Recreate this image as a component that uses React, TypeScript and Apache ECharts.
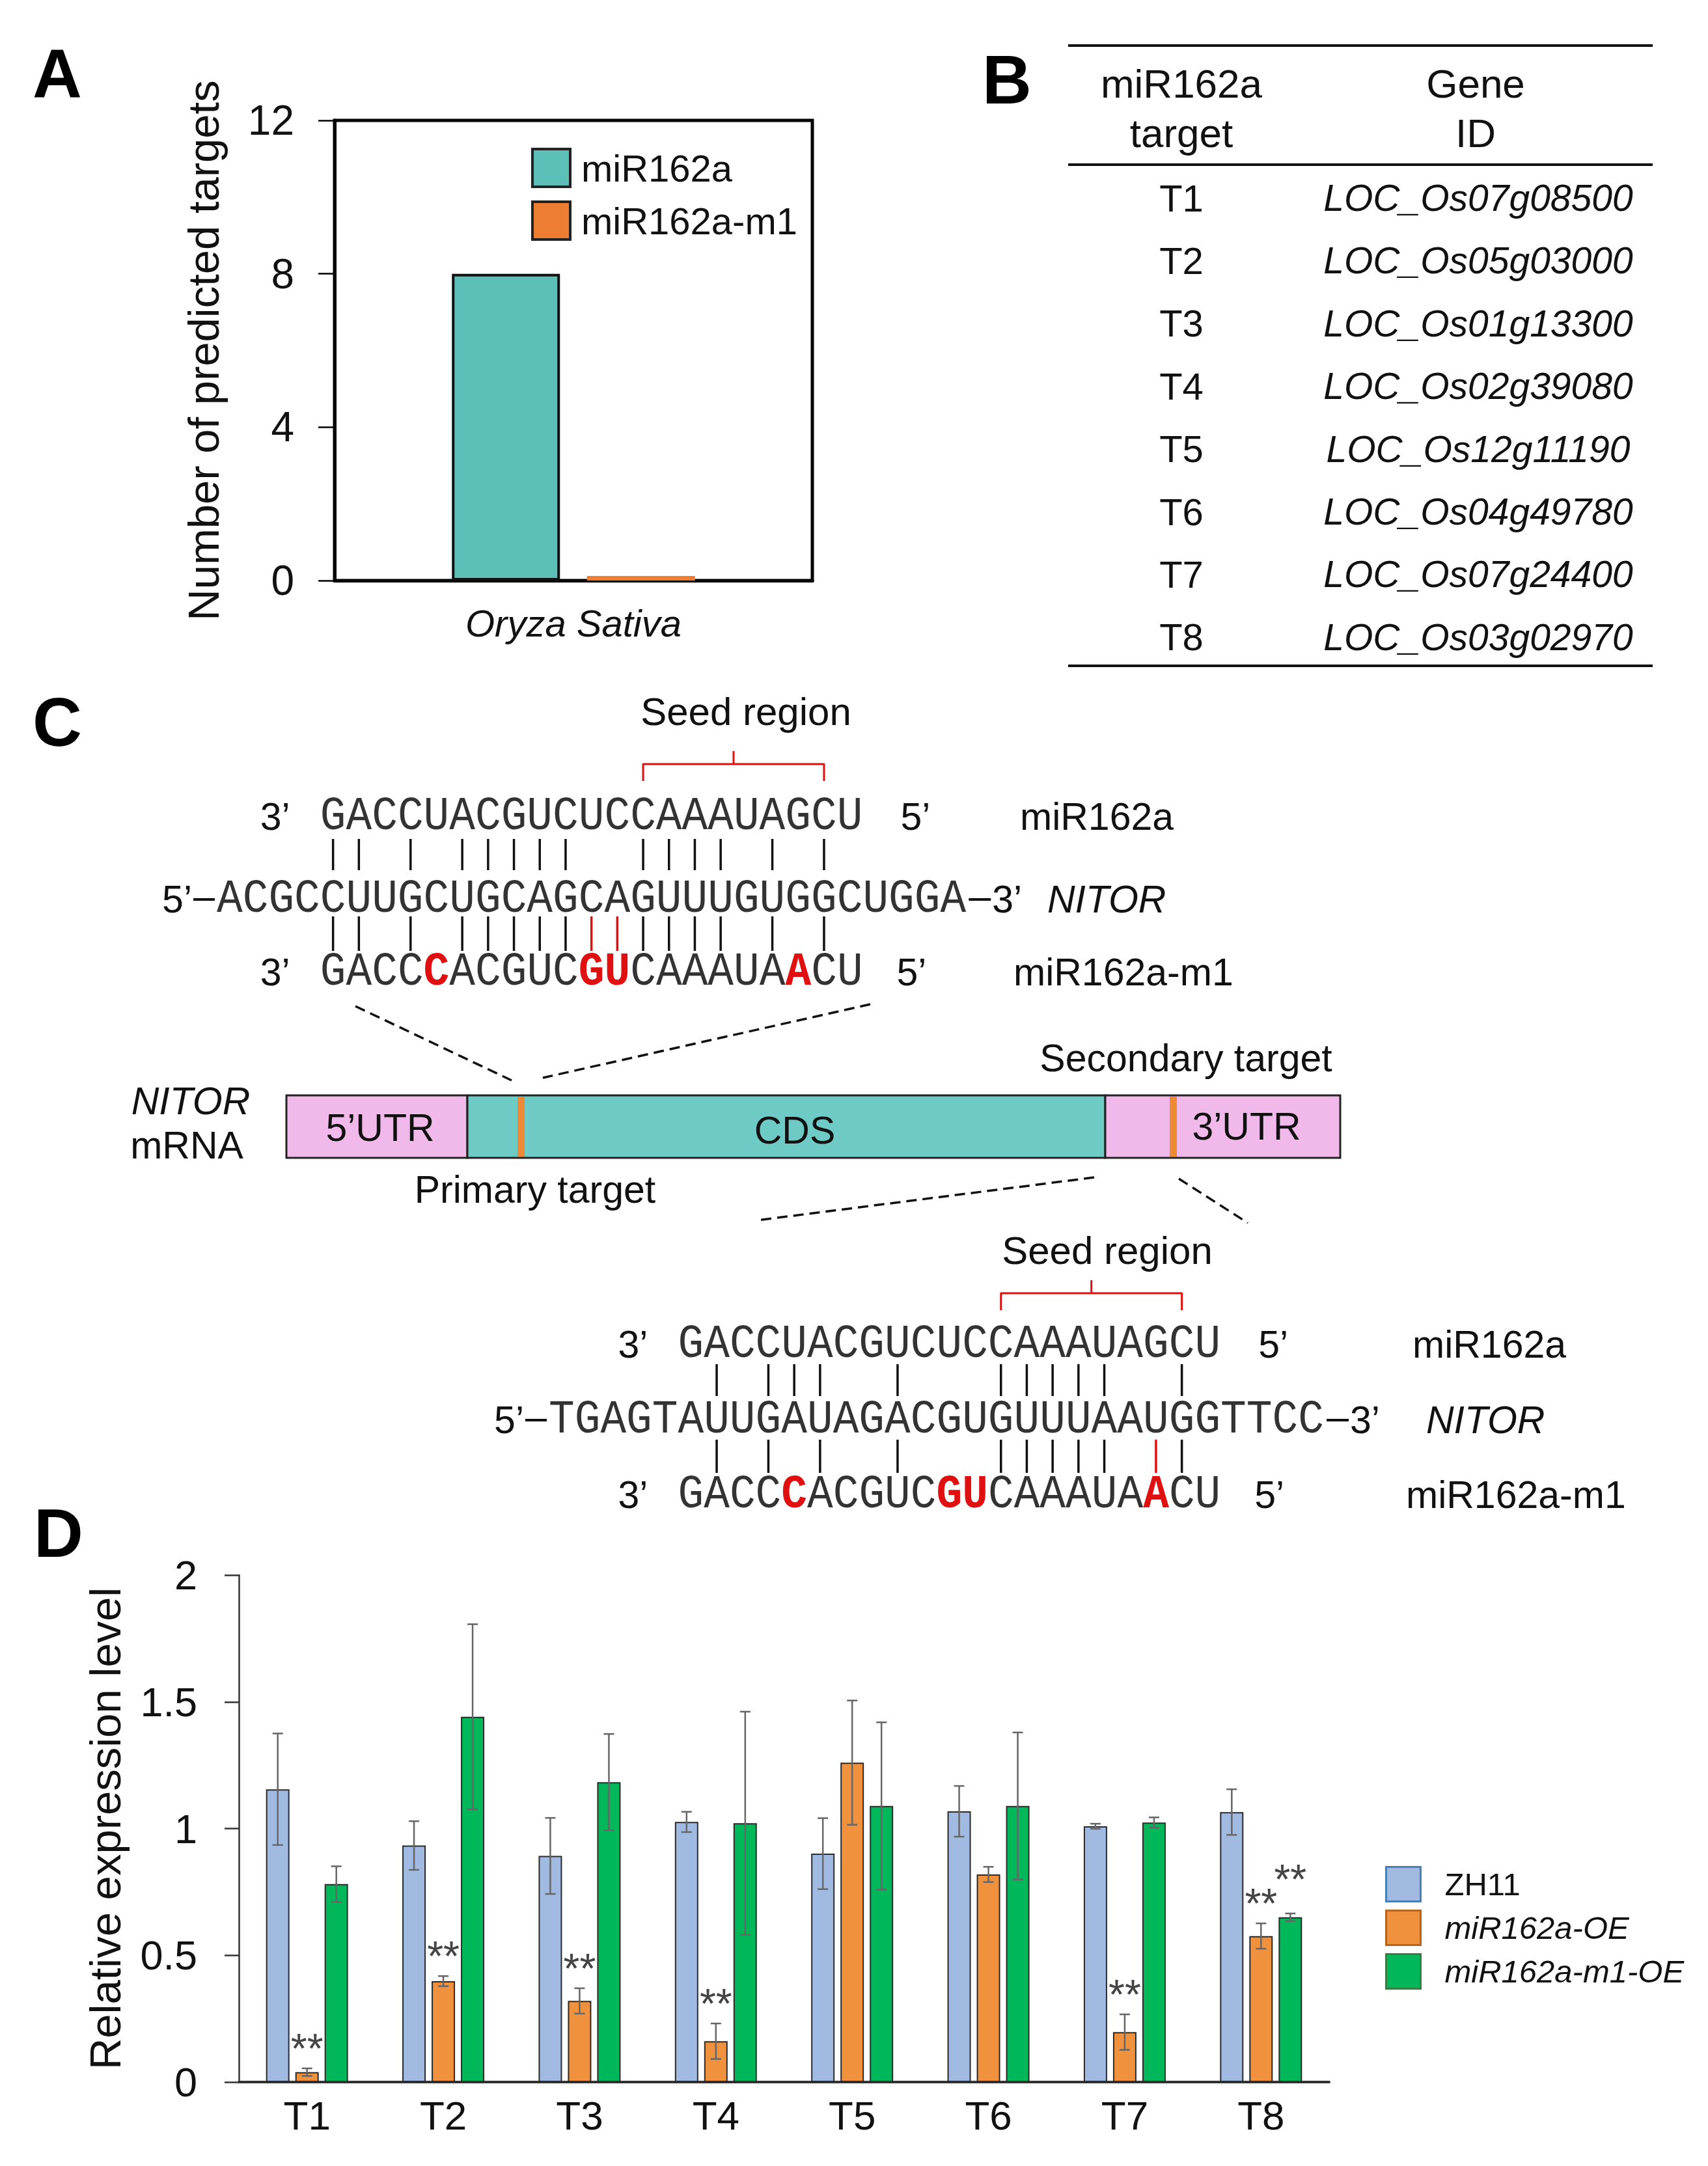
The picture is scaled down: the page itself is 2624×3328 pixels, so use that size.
import React, { useEffect, useRef } from 'react';
import * as echarts from 'echarts';

const FONT = "'Liberation Sans', Arial, Helvetica, sans-serif";
const MONO = "'Liberation Mono', 'Courier New', monospace";

// ---------- Panel A data ----------
const speciesCategories = ['Oryza Sativa'];
const miR162aTargetCount = [8];
const miR162aM1TargetCount = [0];

// ---------- Panel B data ----------
const tableTargets = ['T1', 'T2', 'T3', 'T4', 'T5', 'T6', 'T7', 'T8'];
const tableGeneIds = [
  'LOC_Os07g08500', 'LOC_Os05g03000', 'LOC_Os01g13300', 'LOC_Os02g39080',
  'LOC_Os12g11190', 'LOC_Os04g49780', 'LOC_Os07g24400', 'LOC_Os03g02970',
];

// ---------- Panel C data ----------
const miR162aSeq = 'GACCUACGUCUCCAAAUAGCU';
const miR162aM1Seq = 'GACCCACGUCGUCAAAUAACU';
const mutatedIdx = [4, 10, 11, 18];
const nitorPrimarySeq = 'ACGCCUUGCUGCAGCAGUUUGUGGCUGGA';
const nitorSecondarySeq = 'TGAGTAUUGAUAGACGUGUUUAAUGGTTCC';
const primaryPairsTop = [0, 1, 3, 5, 6, 7, 8, 9, 12, 13, 14, 15, 17, 19];
const primaryPairsBottom = [0, 1, 3, 5, 6, 7, 8, 9, 12, 13, 14, 15, 17, 19];
const primaryPairsBottomRed = [10, 11];
const secondaryPairsTop = [1, 3, 4, 5, 8, 12, 13, 14, 15, 16, 19];
const secondaryPairsBottom = [1, 3, 5, 8, 12, 13, 14, 15, 16, 19];
const secondaryPairsBottomRed = [18];
const seedRange = [12, 19];
const primaryOffset = 4;
const secondaryOffset = 5;

// ---------- Panel D data ----------
const targets = ['T1', 'T2', 'T3', 'T4', 'T5', 'T6', 'T7', 'T8'];
const zh11 = [1.155, 0.933, 0.892, 1.026, 0.901, 1.068, 1.009, 1.065];
const zh11Err = [0.22, 0.096, 0.15, 0.04, 0.14, 0.1, 0.01, 0.09];
const oe = [0.039, 0.398, 0.32, 0.161, 1.26, 0.819, 0.197, 0.576];
const oeErr = [0.015, 0.02, 0.05, 0.07, 0.245, 0.03, 0.07, 0.05];
const m1oe = [0.781, 1.441, 1.183, 1.021, 1.089, 1.089, 1.024, 0.65];
const m1oeErr = [0.07, 0.365, 0.19, 0.44, 0.33, 0.29, 0.02, 0.015];
const oeSig = [1, 1, 1, 1, 0, 0, 1, 1];
const m1oeSig = [0, 0, 0, 0, 0, 0, 0, 1];
const zh11Sig = [0, 0, 0, 0, 0, 0, 0, 0];

const C_TEAL = '#5cc0b8';
const C_ORANGE_A = '#ed7d31';
const C_BLUE = '#a0bae2';
const C_ORANGE = '#f0913e';
const C_GREEN = '#00b75a';
const C_RED = '#e01010';

const PITCH = 39.7;
const MONO_SIZE = 72;
const MONO_SCALE = PITCH / (0.6 * MONO_SIZE);

function text(x: number, y: number, t: string, o: any = {}) {
  return {
    type: 'text',
    x,
    y,
    scaleX: o.scaleX ?? 1,
    style: {
      text: t,
      fontSize: o.size ?? 59,
      fontFamily: o.family ?? FONT,
      fontStyle: o.italic ? 'italic' : 'normal',
      fontWeight: o.bold ? 'bold' : 'normal',
      fill: o.color ?? '#111',
      align: o.align ?? 'center',
      verticalAlign: o.valign ?? 'middle',
      rich: o.rich,
    },
  };
}

function line(x1: number, y1: number, x2: number, y2: number, o: any = {}) {
  return {
    type: 'line',
    shape: { x1, y1, x2, y2 },
    style: { stroke: o.color ?? '#111', lineWidth: o.width ?? 3, lineDash: o.dash },
  };
}

function richSeq(seq: string, red: number[]) {
  let s = '';
  let cur = '';
  let curRed = false;
  for (let i = 0; i < seq.length; i++) {
    const r = red.includes(i);
    if (i > 0 && r !== curRed) {
      s += `{${curRed ? 'r' : 'n'}|${cur}}`;
      cur = '';
    }
    curRed = r;
    cur += seq[i];
  }
  s += `{${curRed ? 'r' : 'n'}|${cur}}`;
  return s;
}

function alignment(cfg: any) {
  const els: any[] = [];
  const miStart = cfg.nitorStart + cfg.offset * PITCH;
  const cx = (i: number) => miStart + (i + 0.5) * PITCH;
  const seqColor = '#333';
  // seed region
  els.push(text(cfg.seedCx, cfg.seedY, 'Seed region', { size: 60 }));
  const bx1 = cx(seedRange[0]);
  const bx2 = cx(seedRange[1]);
  const by = cfg.bracketY;
  els.push(line(bx1, by, bx2, by, { color: C_RED, width: 3 }));
  els.push(line(bx1, by - 1, bx1, by + 26, { color: C_RED, width: 3 }));
  els.push(line(bx2, by - 1, bx2, by + 26, { color: C_RED, width: 3 }));
  els.push(line((bx1 + bx2) / 2, by, (bx1 + bx2) / 2, by - 20, { color: C_RED, width: 3 }));
  // miR row
  els.push(text(miStart - 92, cfg.row1, '3’', { align: 'left' }));
  els.push(text(miStart, cfg.row1, miR162aSeq, { family: MONO, size: MONO_SIZE, align: 'left', color: seqColor, scaleX: MONO_SCALE }));
  els.push(text(miStart + 21 * PITCH + 58, cfg.row1, '5’', { align: 'left' }));
  els.push(text(cfg.labelX, cfg.row1, 'miR162a', { align: 'left' }));
  // pairs top
  cfg.top.forEach((i: number) => els.push(line(cx(i), cfg.l1a, cx(i), cfg.l1b, { width: 3.5 })));
  // NITOR row
  const ns = cfg.nitorStart;
  const nEnd = ns + cfg.nitor.length * PITCH;
  els.push(text(ns - 38, cfg.row2, '5’', { align: 'right' }));
  els.push(line(ns - 36, cfg.row2, ns - 3, cfg.row2, { width: 4 }));
  els.push(text(ns, cfg.row2, cfg.nitor, { family: MONO, size: MONO_SIZE, align: 'left', color: seqColor, scaleX: MONO_SCALE }));
  els.push(line(nEnd + 4, cfg.row2, nEnd + 38, cfg.row2, { width: 4 }));
  els.push(text(nEnd + 40, cfg.row2, '3’', { align: 'left' }));
  els.push(text(cfg.nitorLabelX, cfg.row2, 'NITOR', { align: 'left', italic: true }));
  // pairs bottom
  cfg.bottom.forEach((i: number) => els.push(line(cx(i), cfg.l2a, cx(i), cfg.l2b, { width: 3.5 })));
  cfg.bottomRed.forEach((i: number) => els.push(line(cx(i), cfg.l2a, cx(i), cfg.l2b, { width: 3.5, color: C_RED })));
  // m1 row
  els.push(text(miStart - 92, cfg.row3, '3’', { align: 'left' }));
  els.push(
    text(miStart, cfg.row3, richSeq(miR162aM1Seq, mutatedIdx), {
      family: MONO,
      size: MONO_SIZE,
      align: 'left',
      color: seqColor,
      scaleX: MONO_SCALE,
      rich: {
        n: { fontFamily: MONO, fontSize: MONO_SIZE, fill: seqColor },
        r: { fontFamily: MONO, fontSize: MONO_SIZE, fill: C_RED, fontWeight: 'bold' },
      },
    })
  );
  els.push(text(miStart + 21 * PITCH + 52, cfg.row3, '5’', { align: 'left' }));
  els.push(text(cfg.labelX - 10, cfg.row3, 'miR162a-m1', { align: 'left' }));
  return els;
}

function buildGraphics() {
  const g: any[] = [];
  // panel letters
  g.push(text(88, 113, 'A', { bold: true, size: 105, color: '#000' }));
  g.push(text(1547, 122, 'B', { bold: true, size: 105, color: '#000' }));
  g.push(text(88, 1109, 'C', { bold: true, size: 105, color: '#000' }));
  g.push(text(90, 2355, 'D', { bold: true, size: 105, color: '#000' }));

  // Panel B table
  g.push(line(1641, 70, 2539, 70, { width: 4 }));
  g.push(line(1641, 253, 2539, 253, { width: 4 }));
  g.push(line(1641, 1023, 2539, 1023, { width: 4 }));
  g.push(text(1815, 128, 'miR162a', { size: 62 }));
  g.push(text(1815, 204, 'target', { size: 62 }));
  g.push(text(2267, 128, 'Gene', { size: 62 }));
  g.push(text(2267, 204, 'ID', { size: 62 }));
  tableTargets.forEach((t, k) => {
    const y = 304 + k * 96.4;
    g.push(text(1815, y, t, { size: 58 }));
    g.push(text(2271, y, tableGeneIds[k], { size: 57, italic: true }));
  });

  // Panel C primary alignment
  g.push(
    ...alignment({
      nitorStart: 333,
      offset: primaryOffset,
      nitor: nitorPrimarySeq,
      seedCx: 1146,
      seedY: 1093,
      bracketY: 1174,
      row1: 1255,
      l1a: 1289,
      l1b: 1337,
      row2: 1382,
      l2a: 1408,
      l2b: 1461,
      row3: 1494,
      top: primaryPairsTop,
      bottom: primaryPairsBottom,
      bottomRed: primaryPairsBottomRed,
      labelX: 1567,
      nitorLabelX: 1609,
    })
  );

  // mRNA diagram
  const by1 = 1683;
  const by2 = 1779;
  g.push({ type: 'rect', shape: { x: 440, y: by1, width: 278, height: by2 - by1 }, style: { fill: '#f0b9e9', stroke: '#222', lineWidth: 3 } });
  g.push({ type: 'rect', shape: { x: 718, y: by1, width: 980, height: by2 - by1 }, style: { fill: '#6dcac4', stroke: '#222', lineWidth: 3 } });
  g.push({ type: 'rect', shape: { x: 1698, y: by1, width: 361, height: by2 - by1 }, style: { fill: '#f0b9e9', stroke: '#222', lineWidth: 3 } });
  g.push({ type: 'rect', shape: { x: 795, y: by1 + 2, width: 11, height: by2 - by1 - 4 }, style: { fill: '#ee8a35' } });
  g.push({ type: 'rect', shape: { x: 1797, y: by1 + 2, width: 11, height: by2 - by1 - 4 }, style: { fill: '#ee8a35' } });
  g.push(text(584, 1733, '5’UTR'));
  g.push(text(1221, 1737, 'CDS'));
  g.push(text(1915, 1731, '3’UTR'));
  g.push(text(293, 1692, 'NITOR', { italic: true }));
  g.push(text(287, 1760, 'mRNA'));
  g.push(text(1822, 1626, 'Secondary target'));
  g.push(text(822, 1828, 'Primary target'));
  const dash = [16, 9];
  g.push(line(546, 1546, 786, 1660, { dash, width: 3.5 }));
  g.push(line(1337, 1543, 834, 1656, { dash, width: 3.5 }));
  g.push(line(1681, 1809, 1163, 1875, { dash, width: 3.5 }));
  g.push(line(1811, 1811, 1917, 1879, { dash, width: 3.5 }));

  // Panel C secondary alignment
  g.push(
    ...alignment({
      nitorStart: 843,
      offset: secondaryOffset,
      nitor: nitorSecondarySeq,
      seedCx: 1701,
      seedY: 1921,
      bracketY: 1987,
      row1: 2066,
      l1a: 2096,
      l1b: 2145,
      row2: 2182,
      l2a: 2212,
      l2b: 2263,
      row3: 2297,
      top: secondaryPairsTop,
      bottom: secondaryPairsBottom,
      bottomRed: secondaryPairsBottomRed,
      labelX: 2170,
      nitorLabelX: 2191,
    })
  );
  return g;
}

const BAR_W = 36;
const BAR_STEP = 45;

function errorSeries(name: string, vals: number[], errs: number[], sig: number[], k: number, lift: number) {
  return {
    type: 'custom',
    name: name + ' error',
    xAxisIndex: 1,
    yAxisIndex: 1,
    z: 5,
    silent: true,
    encode: { x: 0, y: 1 },
    data: vals.map((v, i) => [i, v, errs[i], sig[i]]),
    renderItem: (params: any, api: any) => {
      const i = api.value(0);
      const v = api.value(1);
      const e = api.value(2);
      const s = api.value(3);
      const top = api.coord([i, v + e]);
      const bot = api.coord([i, v - e]);
      const x = top[0] + (k - 1) * BAR_STEP;
      const st = { stroke: '#666', lineWidth: 2.5 };
      const children: any[] = [
        { type: 'line', shape: { x1: x, y1: top[1], x2: x, y2: bot[1] }, style: st },
        { type: 'line', shape: { x1: x - 8, y1: top[1], x2: x + 8, y2: top[1] }, style: st },
        { type: 'line', shape: { x1: x - 8, y1: bot[1], x2: x + 8, y2: bot[1] }, style: st },
      ];
      if (s) {
        children.push({
          type: 'text',
          style: {
            text: '**',
            x,
            y: top[1] - lift,
            align: 'center',
            verticalAlign: 'middle',
            fontSize: 64,
            fontFamily: FONT,
            fill: '#444',
          },
        });
      }
      return { type: 'group', children };
    },
  };
}

export default function App() {
  const ref = useRef<HTMLDivElement>(null);
  useEffect(() => {
    if (!ref.current) return;
    document.body.style.margin = '0';
    const chart = echarts.init(ref.current, null, { renderer: 'svg' });
    const option: any = {
      animation: false,
      backgroundColor: '#ffffff',
      textStyle: { fontFamily: FONT },
      grid: [
        { left: 514, top: 185, width: 734, height: 707, show: true, borderColor: '#000', borderWidth: 5, backgroundColor: 'transparent' },
        { left: 367, top: 2420, width: 1675, height: 779 },
      ],
      legend: [
        {
          data: [
            { name: 'miR162a', itemStyle: { borderColor: '#222', borderWidth: 4 } },
            { name: 'miR162a-m1', itemStyle: { borderColor: '#222', borderWidth: 4 } },
          ],
          orient: 'vertical',
          left: 811,
          top: 222,
          icon: 'rect',
          itemWidth: 58,
          itemHeight: 58,
          itemGap: 19,
          textStyle: { fontSize: 58, color: '#111', fontFamily: FONT, padding: [0, 0, 0, 12] },
        },
        {
          data: [
            { name: 'ZH11', itemStyle: { borderColor: '#4a7fb5', borderWidth: 3 } },
            { name: 'miR162a-OE', itemStyle: { borderColor: '#b5651d', borderWidth: 3 }, textStyle: { fontStyle: 'italic' } },
            { name: 'miR162a-m1-OE', itemStyle: { borderColor: '#3a7d44', borderWidth: 3 }, textStyle: { fontStyle: 'italic' } },
          ],
          orient: 'vertical',
          left: 2123,
          top: 2862,
          icon: 'rect',
          itemWidth: 53,
          itemHeight: 53,
          itemGap: 11,
          textStyle: { fontSize: 49, color: '#111', fontFamily: FONT, padding: [0, 0, 0, 32] },
        },
      ],
      xAxis: [
        {
          gridIndex: 0,
          type: 'category',
          data: speciesCategories,
          axisLine: { lineStyle: { color: '#000', width: 5 } },
          axisTick: { show: false },
          axisLabel: { fontSize: 58, fontStyle: 'italic', color: '#111', margin: 36, fontFamily: FONT },
        },
        {
          gridIndex: 1,
          type: 'category',
          data: targets,
          axisLine: { lineStyle: { color: '#333', width: 4 } },
          axisTick: { show: false },
          axisLabel: { fontSize: 62, color: '#111', margin: 20, fontFamily: FONT },
        },
      ],
      yAxis: [
        {
          gridIndex: 0,
          type: 'value',
          min: 0,
          max: 12,
          interval: 4,
          name: 'Number of predicted targets',
          nameLocation: 'middle',
          nameGap: 168,
          nameRotate: 90,
          nameTextStyle: { fontSize: 67, color: '#111', fontFamily: FONT },
          axisLine: { show: true, lineStyle: { color: '#000', width: 5 } },
          axisTick: { show: true, length: 25, lineStyle: { color: '#000', width: 2.5 } },
          axisLabel: { fontSize: 64, color: '#111', margin: 62, fontFamily: FONT },
          splitLine: { show: false },
        },
        {
          gridIndex: 1,
          type: 'value',
          min: 0,
          max: 2,
          interval: 0.5,
          name: 'Relative expression level',
          nameLocation: 'middle',
          nameGap: 172,
          nameRotate: 90,
          nameTextStyle: { fontSize: 67, color: '#111', fontFamily: FONT },
          axisLine: { show: true, lineStyle: { color: '#333', width: 2.5 } },
          axisTick: { show: true, length: 22, lineStyle: { color: '#333', width: 2.5 } },
          axisLabel: { fontSize: 63, color: '#111', margin: 64, fontFamily: FONT },
          splitLine: { show: false },
        },
      ],
      series: [
        {
          type: 'bar',
          name: 'miR162a',
          xAxisIndex: 0,
          yAxisIndex: 0,
          data: miR162aTargetCount,
          barWidth: 166,
          barGap: '25%',
          itemStyle: { color: C_TEAL, borderColor: '#111', borderWidth: 4 },
        },
        {
          type: 'bar',
          name: 'miR162a-m1',
          xAxisIndex: 0,
          yAxisIndex: 0,
          data: miR162aM1TargetCount,
          barWidth: 166,
          barGap: '25%',
          barMinHeight: 7,
          itemStyle: { color: C_ORANGE_A },
        },
        {
          type: 'bar',
          name: 'ZH11',
          xAxisIndex: 1,
          yAxisIndex: 1,
          data: zh11,
          barWidth: BAR_W,
          barGap: '25%',
          itemStyle: { color: C_BLUE, borderColor: '#2b2b2b', borderWidth: 2 },
        },
        {
          type: 'bar',
          name: 'miR162a-OE',
          xAxisIndex: 1,
          yAxisIndex: 1,
          data: oe,
          barWidth: BAR_W,
          barGap: '25%',
          itemStyle: { color: C_ORANGE, borderColor: '#2b2b2b', borderWidth: 2 },
        },
        {
          type: 'bar',
          name: 'miR162a-m1-OE',
          xAxisIndex: 1,
          yAxisIndex: 1,
          data: m1oe,
          barWidth: BAR_W,
          barGap: '25%',
          itemStyle: { color: C_GREEN, borderColor: '#2b2b2b', borderWidth: 2 },
        },
        errorSeries('ZH11', zh11, zh11Err, zh11Sig, 0, 30),
        errorSeries('miR162a-OE', oe, oeErr, oeSig, 1, 30),
        errorSeries('miR162a-m1-OE', m1oe, m1oeErr, m1oeSig, 2, 52),
      ],
      graphic: buildGraphics(),
    };
    chart.setOption(option);
    return () => chart.dispose();
  }, []);
  return (
    <div
      ref={ref}
      style={{ position: 'absolute', left: 0, top: 0, width: 2624, height: 3328, background: '#fff' }}
    />
  );
}
